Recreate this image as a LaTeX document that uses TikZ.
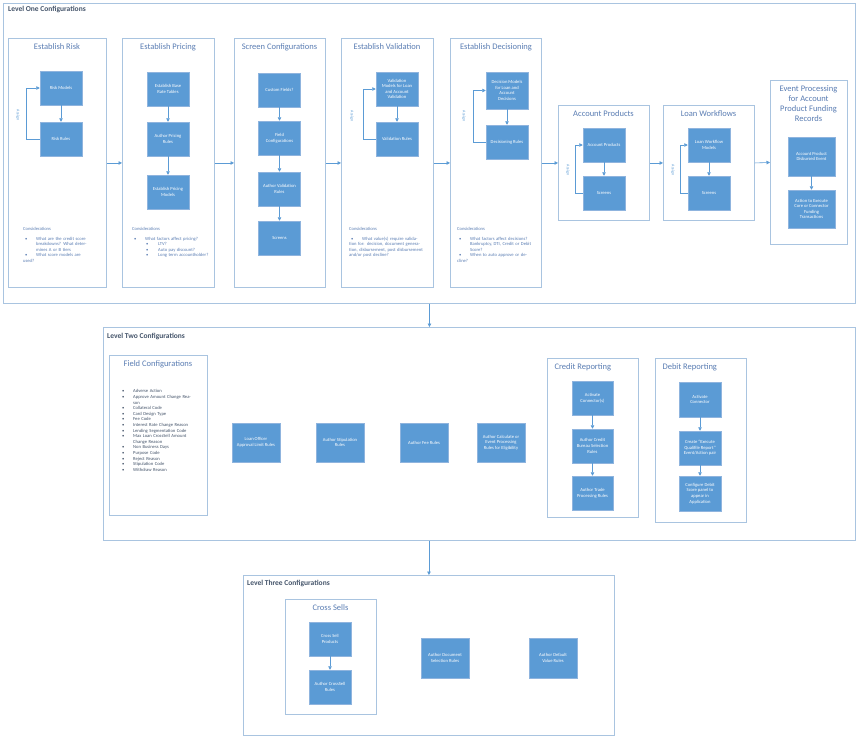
\documentclass[tikz,border=0pt]{standalone}
\usepackage{fontspec}
\setmainfont{Carlito}
\usetikzlibrary{arrows.meta}
\definecolor{bfill}{HTML}{5B9BD5}
\definecolor{bdraw}{HTML}{8FB4DE}
\definecolor{pdraw}{HTML}{A9C4E0}
\definecolor{ptitle}{HTML}{5A7DB3}
\definecolor{ltitle}{HTML}{44546A}
\definecolor{linec}{HTML}{5B9BD5}
\newcommand{\fs}{\fontsize{4.6}{5.6}\selectfont}
\newcommand{\bul}[1]{\par\hangindent=13pt\hangafter=1\makebox[13pt][l]{\hspace{2pt}\textbullet}#1}
\newcommand{\subbul}[1]{\par\hangindent=26pt\hangafter=1\makebox[26pt][l]{\hspace{14pt}\textbullet}#1}
\tikzset{
 bx/.style={draw=bdraw, line width=0.5pt, fill=bfill, text=white, font=\fs, align=center, inner sep=1pt},
 panel/.style={draw=pdraw, line width=0.9pt, fill=white, inner sep=0pt},
 lvl/.style={draw=pdraw, line width=0.9pt, inner sep=0pt},
 ptl/.style={text=ptitle, font=\fontsize{8.5}{10}\selectfont, align=center, anchor=north},
 ltl/.style={text=ltitle, font=\fontsize{7.5}{9}\selectfont\bfseries, anchor=north west, inner sep=0pt},
 arr/.style={draw=linec, line width=0.6pt, -{Triangle[length=3.5pt,width=3.5pt]}},
 asg/.style={text=bfill, font=\fontsize{4}{5}\selectfont, rotate=-90},
 cons/.style={text=ptitle, font=\fs, anchor=north west, text width=#1, align=left, inner sep=0pt},
}
\begin{document}
\begin{tikzpicture}[x=1pt,y=-1pt]
\useasboundingbox[fill=white] (0,0) rectangle (857,740);
% Level boxes
\node[lvl, anchor=north west, minimum width=852, minimum height=300] (l1) at (3,3) {};
\node[ltl] (l1t) at (8,6) {Level One Configurations};
\node[lvl, anchor=north west, minimum width=752, minimum height=213] (l2) at (103,327) {};
\node[ltl] (l2t) at (107,333) {Level Two Configurations};
\node[lvl, anchor=north west, minimum width=371, minimum height=160] (l3) at (243,575) {};
\node[ltl] (l3t) at (247,580) {Level Three Configurations};
\draw[arr] (l1.south) -- (l1.south |- l2.north);
\draw[arr] (l3.north |- l2.south) -- (l3.north);

% Level one panels
\node[panel, anchor=north west, minimum width=98, minimum height=249] (p1) at (8,38) {};
\node[panel, anchor=north west, minimum width=92, minimum height=249] (p2) at (122,38) {};
\node[panel, anchor=north west, minimum width=91, minimum height=249] (p3) at (234,38) {};
\node[panel, anchor=north west, minimum width=92, minimum height=249] (p4) at (341,38) {};
\node[panel, anchor=north west, minimum width=91, minimum height=249] (p5) at (450,38) {};
\node[panel, anchor=north west, minimum width=91, minimum height=115] (p6) at (558,105) {};
\node[panel, anchor=north west, minimum width=91, minimum height=115] (p7) at (663,105) {};
\node[panel, anchor=north west, minimum width=77, minimum height=164] (p8) at (770,80) {};
\node[ptl] (p1t) at (57,40) {Establish Risk};
\node[ptl] (p2t) at (168,40) {Establish Pricing};
\node[ptl] (p3t) at (279.5,40) {Screen Configurations};
\node[ptl] (p4t) at (387,40) {Establish Validation};
\node[ptl] (p5t) at (496,40) {Establish Decisioning};
\node[ptl] (p6t) at (603.5,107) {Account Products};
\node[ptl] (p7t) at (708.5,107) {Loan Workflows};
\node[ptl] (p8t) at (808.5,82) {Event Processing\\for Account\\Product Funding\\Records};
\foreach \a/\b in {p1/p2,p2/p3,p3/p4,p4/p5,p5/p6,p6/p7,p7/p8} \draw[arr] (\a.east) -- (\b.west);

% Risk
\node[bx, minimum width=42, minimum height=34] (rm) at (61,88) {Risk Models};
\node[bx, minimum width=42, minimum height=34] (rr) at (61,139) {Risk Rules};
\draw[arr] (rm) -- (rr);
\draw[arr] (rr.west) -- ++(-13,0) |- (rm.west);
\node[asg] (a1) at (18,115) {Assign};
% Pricing
\node[bx, minimum width=42, minimum height=34] (pb) at (168,89) {Establish Base\\Rate Tables};
\node[bx, minimum width=42, minimum height=34] (pa) at (168,139) {Author Pricing\\Rules};
\node[bx, minimum width=42, minimum height=34] (pm) at (168,192) {Establish Pricing\\Models};
\draw[arr] (pb) -- (pa); \draw[arr] (pa) -- (pm);
% Screen
\node[bx, minimum width=42, minimum height=34] (s1) at (279.5,90) {Custom Fields?};
\node[bx, minimum width=42, minimum height=34] (s2) at (279.5,138) {Field\\Configurations};
\node[bx, minimum width=42, minimum height=34] (s3) at (279.5,189) {Author Validation\\Rules};
\node[bx, minimum width=42, minimum height=34] (s4) at (279.5,238) {Screens};
\draw[arr] (s1) -- (s2); \draw[arr] (s2) -- (s3); \draw[arr] (s3) -- (s4);
% Validation
\node[bx, minimum width=42, minimum height=34] (v1) at (397,89) {Validation\\Models for Loan\\and Account\\Validation};
\node[bx, minimum width=42, minimum height=34] (v2) at (397,139) {Validation Rules};
\draw[arr] (v1) -- (v2);
\draw[arr] (v2.west) -- ++(-12,0) |- (v1.west);
\node[asg] (a2) at (352,116) {Assign};
% Decisioning
\node[bx, minimum width=42, minimum height=37] (d1) at (507,90.5) {Decision Models\\for Loan and\\Account\\Decisions};
\node[bx, minimum width=42, minimum height=34] (d2) at (507,142) {Decisioning Rules};
\draw[arr] (d1) -- (d2);
\draw[arr] (d2.west) -- ++(-12,0) |- (d1.west);
\node[asg] (a3) at (464,116) {Assign};
% Account products
\node[bx, minimum width=42, minimum height=34] (ap1) at (604,145) {Account Products};
\node[bx, minimum width=42, minimum height=34] (ap2) at (604,193) {Screens};
\draw[arr] (ap1) -- (ap2);
\draw[arr] (ap2.west) -- ++(-7,0) |- (ap1.west);
\node[asg] (a4) at (568,170) {Assign};
% Loan workflows
\node[bx, minimum width=42, minimum height=34] (lw1) at (709,145) {Loan Workflow\\Models};
\node[bx, minimum width=42, minimum height=34] (lw2) at (709,193) {Screens};
\draw[arr] (lw1) -- (lw2);
\draw[arr] (lw2.west) -- ++(-7,0) |- (lw1.west);
\node[asg] (a5) at (673,170) {Assign};
% Event processing
\node[bx, minimum width=47, minimum height=39] (e1) at (811.5,156.5) {Account Product\\Disbursed Event};
\node[bx, minimum width=47, minimum height=38] (e2) at (811.5,209) {Action to Execute\\Core or Connector\\Funding\\Transactions};
\draw[arr] (e1) -- (e2);

% Considerations
\node[cons=70] (c1) at (23,227) {Considerations\par\vspace{4pt}\bul{What are the credit score breakdowns? What determines A or B tiers}\bul{What score models are used?}};
\node[cons=80] (c2) at (132,227) {Considerations\par\vspace{4pt}\bul{What factors affect pricing?}\subbul{LTV?}\subbul{Auto pay discount?}\subbul{Long term accountholder?}};
\node[cons=75] (c3) at (349,227) {Considerations\par\vspace{4pt}\bul{What value(s) require validation for: decision, document generation, disbursement, post disbursement and/or post decline?}};
\node[cons=75] (c4) at (457,227) {Considerations\par\vspace{4pt}\bul{What factors affect decisions? Bankruptcy, DTI, Credit or Debit Score?}\bul{When to auto approve or decline?}};

% Level two
\node[panel, anchor=north west, minimum width=98, minimum height=160] (fc) at (109,355) {};
\node[ptl] (fct) at (158,357) {Field Configurations};
\node[text=ltitle, font=\fs, anchor=north west, text width=72, inner sep=0pt] (fcl) at (120,387) {%
\bul{Adverse Action}\bul{Approve Amount Change Reason}\bul{Collateral Code}\bul{Card Design Type}\bul{Fee Code}\bul{Interest Rate Change Reason}\bul{Lending Segmentation Code}\bul{Max Loan CrossSell Amount Change Reason}\bul{Non Business Days}\bul{Purpose Code}\bul{Reject Reason}\bul{Stipulation Code}\bul{Withdraw Reason}};
\node[bx, minimum width=48, minimum height=39] (b1) at (256,442.5) {Loan Officer\\Approval Limit Rules};
\node[bx, minimum width=48, minimum height=39] (b2) at (340,442.5) {Author Stipulation\\Rules};
\node[bx, minimum width=48, minimum height=39] (b3) at (424,442.5) {Author Fee Rules};
\node[bx, minimum width=48, minimum height=39] (b4) at (501,442.5) {Author Calculate or\\Event Processing\\Rules for Eligibility};

\node[panel, anchor=north west, minimum width=91, minimum height=159] (cr) at (547,358) {};
\node[ptl, anchor=north west] (crt) at (551,360) {Credit Reporting};
\node[bx, minimum width=41, minimum height=34] (cr1) at (592.5,398) {Activate\\Connector(s)};
\node[bx, minimum width=41, minimum height=34] (cr2) at (592.5,446) {Author Credit\\Bureau Selection\\Rules};
\node[bx, minimum width=41, minimum height=34] (cr3) at (592.5,493) {Author Trade\\Processing Rules};
\draw[arr] (cr1) -- (cr2); \draw[arr] (cr2) -- (cr3);

\node[panel, anchor=north west, minimum width=91, minimum height=164] (dr) at (655,358) {};
\node[ptl, anchor=north west] (drt) at (659,360) {Debit Reporting};
\node[bx, minimum width=42, minimum height=35] (dr1) at (700,399.5) {Activate\\Connector};
\node[bx, minimum width=42, minimum height=34] (dr2) at (700,448) {Create ``Execute\\Qualifile Report''\\Event/Action pair};
\node[bx, minimum width=42, minimum height=35] (dr3) at (700,493.5) {Configure Debit\\Score panel to\\appear in\\Application};
\draw[arr] (dr1) -- (dr2); \draw[arr] (dr2) -- (dr3);

% Level three
\node[panel, anchor=north west, minimum width=91, minimum height=115] (cs) at (285,599) {};
\node[ptl] (cst) at (330.5,601) {Cross Sells};
\node[bx, minimum width=42, minimum height=34] (cs1) at (330,639) {Cross Sell\\Products};
\node[bx, minimum width=42, minimum height=34] (cs2) at (330,687) {Author CrossSell\\Rules};
\draw[arr] (cs1) -- (cs2);
\node[bx, minimum width=48, minimum height=40] (d3) at (445,658) {Author Document\\Selection Rules};
\node[bx, minimum width=48, minimum height=40] (d4) at (553,658) {Author Default\\Value Rules};
\end{tikzpicture}
\end{document}
